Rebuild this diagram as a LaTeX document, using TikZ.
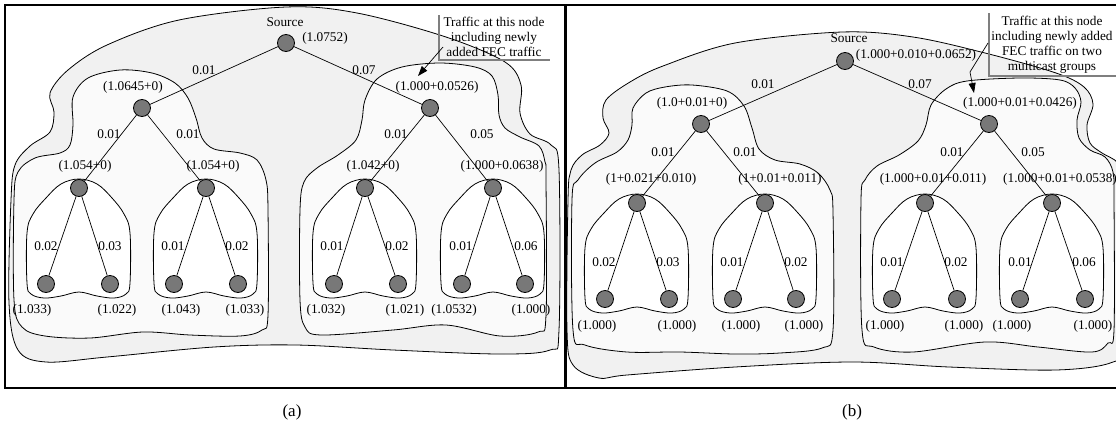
\documentclass[tikz,border=0pt]{standalone}
\usepackage{fontspec}
\setmainfont{Liberation Serif}
\usetikzlibrary{arrows.meta}
\definecolor{nodegray}{HTML}{787878}
\definecolor{outerfill}{HTML}{F1F1F1}
\definecolor{midfill}{HTML}{FAFAFA}
\definecolor{calloutgray}{HTML}{7F7F7F}
\newcommand{\leafblob}[1]{\draw[smallblob, shift={(#1)}] plot[smooth cycle, tension=0.6] coordinates {(0,-9) (18,-4) (33,10) (45,26) (51,45) (51,95) (47,106) (35,110) (18,108) (0,104) (-18,108) (-35,110) (-48,106) (-52,95) (-52,45) (-46,26) (-33,10) (-18,-4)};}
\begin{document}
\begin{tikzpicture}[x=1pt,y=-1pt,
  every node/.style={font=\fontsize{13.3}{15}\selectfont, inner sep=0pt},
  tn/.style={circle, draw=black, fill=nodegray, minimum size=17pt, inner sep=0pt, line width=0.8pt},
  outerblob/.style={draw=black, fill=outerfill, line width=0.8pt},
  midblob/.style={draw=black, fill=midfill, line width=0.8pt},
  smallblob/.style={draw=black, fill=white, line width=0.8pt},
  edge/.style={draw=black, line width=0.7pt},
  callline/.style={draw=calloutgray, line width=1.3pt},
  callarrow/.style={draw=black, line width=0.7pt, -{Triangle[length=10pt,width=7pt]}},
  frame/.style={draw=black, line width=1.8pt},
  calltext/.style={align=center, font=\fontsize{13.3}{15}\selectfont},
  captext/.style={font=\fontsize{17}{20}\selectfont}
]
\fill[white] (0,0) rectangle (1116,426);
\clip (0,0) rectangle (1116,426);

% ---------- coordinates ----------
\foreach \n/\x/\y in {pSa/286/43, pA1/142/108, pA2/430/108, pA11/79/188, pA12/206/188, pA21/365/188, pA22/493/188,
  pSb/845/61, pB1/701/124, pB2/989/124, pB11/637/203, pB12/765/203, pB21/925/203, pB22/1052/203}
  \coordinate (\n) at (\x,\y);

% ---------- panel (a) blobs ----------
\draw[outerblob] plot[smooth cycle, tension=0.55] coordinates {(11,200) (15,165) (30,146) (50,132) (54,112) (50,93) (68,70) (107,45) (179,20) (286,7) (357,13) (446,37) (505,62) (521,85) (520,113) (530,134) (551,145) (559,170) (559,330) (550,350) (500,354) (393,350) (296,345) (214,347) (107,357) (46,362) (18,350) (9,303)};
\draw[midblob] plot[smooth cycle, tension=0.55] coordinates {(73,97) (88,78) (120,70) (152,73) (175,83) (188,98) (196,118) (202,138) (214,149) (240,153) (257,160) (266,180) (268,210) (268,315) (262,330) (240,336) (190,335) (143,332) (90,338) (45,336) (22,327) (14,300) (14,200) (18,172) (35,158) (60,153) (70,145) (73,125)};
\draw[midblob] plot[smooth cycle, tension=0.55] coordinates {(365,100) (377,79) (402,67) (440,63) (475,67) (492,76) (498,95) (499,115) (505,128) (520,137) (539,146) (545,162) (546,180) (546,315) (538,332) (500,336) (446,325) (393,330) (321,335) (305,327) (300,300) (300,210) (304,182) (317,168) (338,155) (356,140) (362,120)};
\leafblob{pA11}
\leafblob{pA12}
\leafblob{pA21}
\leafblob{pA22}

% ---------- panel (b) blobs ----------
\draw[outerblob] plot[smooth cycle, tension=0.55] coordinates {(568,200) (571,170) (582,155) (600,145) (609,133) (603,118) (606,100) (630,82) (663,66) (735,43) (842,32) (913,37) (985,53) (1056,73) (1084,87) (1093,104) (1087,125) (1090,143) (1102,153) (1118,163) (1128,185) (1128,340) (1113,362) (1056,370) (949,367) (852,362) (735,367) (627,375) (599,378) (573,365) (567,330)};
\draw[midblob] plot[smooth cycle, tension=0.55] coordinates {(633,108) (646,93) (665,87) (692,85) (727,91) (744,106) (752,128) (759,149) (775,160) (800,164) (818,173) (830,190) (833,212) (833,330) (822,348) (780,353) (735,354) (680,352) (627,352) (585,345) (573,330) (572,200) (578,180) (595,163) (617,152) (628,140) (632,125)};
\draw[midblob] plot[smooth cycle, tension=0.55] coordinates {(931,105) (946,89) (967,81) (1020,78) (1060,80) (1075,88) (1081,102) (1077,120) (1079,138) (1090,150) (1105,157) (1113,172) (1114,200) (1114,330) (1108,343) (1092,352) (1038,347) (985,342) (913,352) (874,347) (862,330) (861,200) (865,180) (877,166) (899,155) (918,141) (926,125)};
\leafblob{pB11}
\leafblob{pB12}
\leafblob{pB21}
\leafblob{pB22}

% ---------- tree nodes ----------
\foreach \n/\p in {Sa/pSa, A1/pA1, A2/pA2, A11/pA11, A12/pA12, A21/pA21, A22/pA22,
  Sb/pSb, B1/pB1, B2/pB2, B11/pB11, B12/pB12, B21/pB21, B22/pB22}
  \node[tn] (\n) at (\p) {};
\foreach \n/\x in {A111/46, A112/110, A121/174, A122/238, A211/334, A212/398, A221/462, A222/525}
  \node[tn] (\n) at (\x,284) {};
\foreach \n/\x in {B111/605, B112/669, B121/733, B122/796, B211/892, B212/957, B221/1020, B222/1085}
  \node[tn] (\n) at (\x,299) {};

% ---------- tree edges ----------
\foreach \a/\b in {Sa/A1, Sa/A2, A1/A11, A1/A12, A2/A21, A2/A22,
  A11/A111, A11/A112, A12/A121, A12/A122, A21/A211, A21/A212, A22/A221, A22/A222,
  Sb/B1, Sb/B2, B1/B11, B1/B12, B2/B21, B2/B22,
  B11/B111, B11/B112, B12/B121, B12/B122, B21/B211, B21/B212, B22/B221, B22/B222}
  \draw[edge] (\a) -- (\b);

% ---------- labels panel (a) ----------
\node (ta0) at (285,22) {Source};
\node (ta1) at (325,38) {(1.0752)};
\node (ta2) at (204,70) {0.01};
\node (ta3) at (364,70) {0.07};
\node (ta4) at (133,87) {(1.0645+0)};
\node (ta5) at (437,87) {(1.000+0.0526)};
\node (ta6) at (109,134) {0.01};
\node (ta7) at (188,134) {0.01};
\node (ta8) at (396,134) {0.01};
\node (ta9) at (482,134) {0.05};
\node (ta10) at (85,166) {(1.054+0)};
\node (ta11) at (213,166) {(1.054+0)};
\node (ta12) at (373,166) {(1.042+0)};
\node (ta13) at (502,166) {(1.000+0.0638)};
\foreach \n/\x/\t in {ea1/46/0.02, ea2/110/0.03, ea3/173/0.01, ea4/237/0.02, ea5/332/0.01, ea6/397/0.02, ea7/461/0.01, ea8/526/0.06}
  \node (\n) at (\x,246) {\t};
\foreach \n/\x/\t in {la1/32/(1.033), la2/117/(1.022), la3/181/(1.043), la4/245/(1.033), la5/326/(1.032), la6/405/(1.021), la7/454/(1.0532), la8/531/(1.000)}
  \node (\n) at (\x,310) {\t};

% ---------- labels panel (b) ----------
\node (tb0) at (849,38) {Source};
\node (tb1) at (916,55) {(1.000+0.010+0.0652)};
\node (tb2) at (763,84) {0.01};
\node (tb3) at (920,84) {0.07};
\node (tb4) at (692,103) {(1.0+0.01+0)};
\node (tb5) at (1020,103) {(1.000+0.01+0.0426)};
\node (tb6) at (663,152) {0.01};
\node (tb7) at (745,152) {0.01};
\node (tb8) at (952,152) {0.01};
\node (tb9) at (1033,152) {0.05};
\node (tb10) at (651,179) {(1+0.021+0.010)};
\node (tb11) at (780,179) {(1+0.01+0.011)};
\node (tb12) at (933,179) {(1.000+0.01+0.011)};
\node (tb13) at (1060,179) {(1.000+0.01+0.0538)};
\foreach \n/\x/\t in {eb1/604/0.02, eb2/668/0.03, eb3/732/0.01, eb4/796/0.02, eb5/892/0.01, eb6/956/0.02, eb7/1020/0.01, eb8/1084/0.06}
  \node (\n) at (\x,262) {\t};
\foreach \n/\x in {lb1/597, lb2/677, lb3/741, lb4/804, lb5/885, lb6/964, lb7/1012, lb8/1093}
  \node (\n) at (\x,326) {(1.000)};

% ---------- callouts ----------
\coordinate (ca1) at (439,15);
\coordinate (ca2) at (439,60);
\coordinate (ca3) at (550,60);
\draw[callline] (ca1) -- (ca2) -- (ca3);
\node[calltext] (cta) at (494,37) {Traffic at this node\\including newly\\added FEC traffic};
\coordinate (aa1) at (443,47);
\coordinate (aa2) at (418,76);
\draw[callarrow] (aa1) -- (aa2);

\coordinate (cb1) at (989,13);
\coordinate (cb2) at (989,76);
\coordinate (cb3) at (1116,76);
\draw[callline] (cb1) -- (cb2) -- (cb3);
\node[calltext] (ctb) at (1052,45) {Traffic at this node\\including newly added\\FEC traffic on two\\multicast groups};
\coordinate (ab1) at (988,43);
\coordinate (ab2) at (970,72);
\coordinate (ab3) at (974,93);
\draw[callarrow] (ab1) -- (ab2) -- (ab3);

% ---------- frames and captions ----------
\draw[frame] (5,5) -- (565,5) -- (565,388) -- (5,388) -- cycle;
\draw[frame] (565,5) -- (1120,5);
\draw[frame] (565,388) -- (1120,388);
\draw[line width=3pt] (565,4) -- (565,389);
\node[captext] (capa) at (292,412) {(a)};
\node[captext] (capb) at (852,412) {(b)};
\end{tikzpicture}
\end{document}
